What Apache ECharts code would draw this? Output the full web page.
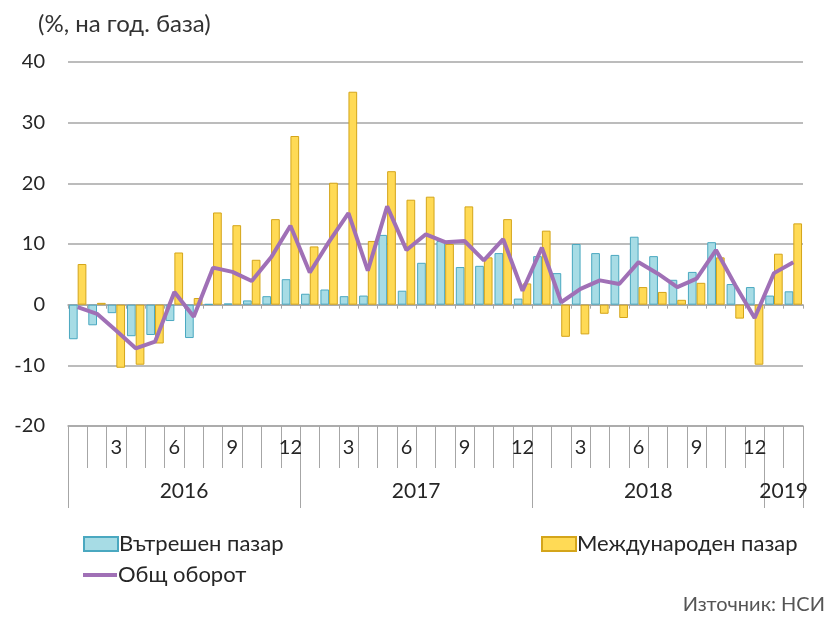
<!DOCTYPE html>
<html>
<head>
<meta charset="utf-8">
<script src="https://cdn.jsdelivr.net/npm/echarts@6/dist/echarts.min.js"></script>
<style>
  html, body { margin: 0; padding: 0; background: #fff; }
  #chart { width: 840px; height: 617px; }
</style>
</head>
<body>
<div id="chart"></div>
<script>
// месеци: 01.2016 - 02.2019
const months = [
  1, 2, 3, 4, 5, 6, 7, 8, 9, 10, 11, 12,
  1, 2, 3, 4, 5, 6, 7, 8, 9, 10, 11, 12,
  1, 2, 3, 4, 5, 6, 7, 8, 9, 10, 11, 12,
  1, 2
];
const years = ["2016", "2017", "2018", "2019"];
const yearLabelPos = [6, 18, 30, 37];
const yearBounds = [0, 12, 24, 36, 38];

const domestic = [
  -5.7, -3.4, -1.4, -5.2, -5.0, -2.7, -5.5, 0.1, 0.2, 0.7, 1.4, 4.2,
  1.8, 2.5, 1.4, 1.5, 11.5, 2.3, 6.9, 10.5, 6.2, 6.4, 8.5, 1.0,
  8.0, 5.2, 10.0, 8.5, 8.2, 11.2, 8.0, 4.1, 5.4, 10.3, 3.4, 2.9,
  1.5, 2.2
];
const international = [
  6.7, 0.3, -10.4, -9.9, -6.4, 8.6, 1.1, 15.2, 13.1, 7.4, 14.1, 27.8,
  9.6, 20.1, 35.1, 10.5, 22.0, 17.3, 17.8, 10.0, 16.2, 7.8, 14.1, 3.5,
  12.2, -5.3, -4.9, -1.5, -2.2, 2.9, 2.1, 0.8, 3.6, 7.8, -2.3, -9.9,
  8.4, 13.4
];
const total = [
  -0.4, -1.5, -4.3, -7.2, -6.1, 2.1, -2.0, 6.1, 5.4, 3.9, 7.8, 13.0,
  5.3, 10.4, 15.1, 5.6, 16.2, 9.0, 11.6, 10.3, 10.5, 7.3, 10.8, 2.3,
  9.4, 0.4, 2.6, 4.0, 3.4, 7.0, 5.1, 2.9, 4.3, 9.0, 3.2, -2.2,
  5.2, 7.0
];

const FONT = "Lato";
const gridColor = "#a6a6a6";
const textColor = "#262626";
const legendText = { fontFamily: FONT, fontSize: 22, color: textColor, padding: [0, 0, 0, -4] };

const chart = echarts.init(document.getElementById("chart"));
const options = {
  animation: false,
  textStyle: { fontFamily: FONT },
  grid: { left: 68, right: 37, top: 62, bottom: 191 },
  title: [
    {
      text: "(%, на год. база)",
      left: 33, top: 7,
      textStyle: { fontFamily: FONT, fontSize: 24, fontWeight: "normal", color: "#333" }
    },
    {
      text: "Източник: НСИ",
      right: 10, top: 590,
      textStyle: { fontFamily: FONT, fontSize: 20, fontWeight: "normal", color: "#555" }
    }
  ],
  legend: [
    {
      data: ["Вътрешен пазар"],
      left: 78, top: 528, icon: "rect",
      itemWidth: 34, itemHeight: 14,
      textStyle: legendText
    },
    {
      data: ["Международен пазар"],
      left: 536, top: 528, icon: "rect",
      itemWidth: 34, itemHeight: 14,
      textStyle: legendText
    },
    {
      data: ["Общ оборот"],
      left: 78, top: 559, icon: "rect",
      itemWidth: 34, itemHeight: 4,
      textStyle: legendText
    }
  ],
  xAxis: [
    {
      type: "category",
      data: months,
      axisLine: { onZero: true, lineStyle: { color: gridColor, width: 1.5 } },
      axisTick: { show: true, length: 4, lineStyle: { color: gridColor } },
      axisLabel: { show: false }
    },
    {
      type: "category",
      data: months,
      position: "bottom",
      axisLine: { show: true, lineStyle: { color: gridColor, width: 1.5 } },
      axisTick: { show: true, interval: 0, length: 42, lineStyle: { color: gridColor } },
      axisLabel: {
        interval: 0, margin: 12, fontSize: 20, color: textColor,
        formatter: (v) => (v % 3 === 0 ? v : "")
      }
    },
    {
      type: "value",
      min: 0, max: 38,
      position: "bottom",
      axisLine: { show: false },
      splitLine: { show: false },
      axisTick: { show: true, length: 82, customValues: yearBounds, lineStyle: { color: gridColor } },
      axisLabel: {
        customValues: yearLabelPos, margin: 55, fontSize: 21, color: textColor,
        formatter: (v) => years[yearLabelPos.indexOf(v)]
      }
    }
  ],
  yAxis: {
    type: "value",
    min: -20, max: 40, interval: 10,
    axisLine: { show: false },
    axisTick: { show: false },
    axisLabel: { fontSize: 20, color: textColor, margin: 23 },
    splitLine: { lineStyle: { color: gridColor, width: 1.5 } }
  },
  series: [
    {
      name: "Вътрешен пазар",
      type: "bar",
      data: domestic,
      barCategoryGap: "10%",
      barGap: "0%",
      itemStyle: { color: "#a7dce5", borderColor: "#4aa8c0", borderWidth: 1 }
    },
    {
      name: "Международен пазар",
      type: "bar",
      data: international,
      itemStyle: { color: "#ffda55", borderColor: "#d4a51a", borderWidth: 1 }
    },
    {
      name: "Общ оборот",
      type: "line",
      data: total,
      symbol: "none",
      lineStyle: { color: "#a070b6", width: 4 },
      itemStyle: { color: "#a070b6" }
    }
  ]
};
chart.setOption(options);
window.addEventListener("resize", () => {
  chart.resize();
});
</script>
</body>
</html>
